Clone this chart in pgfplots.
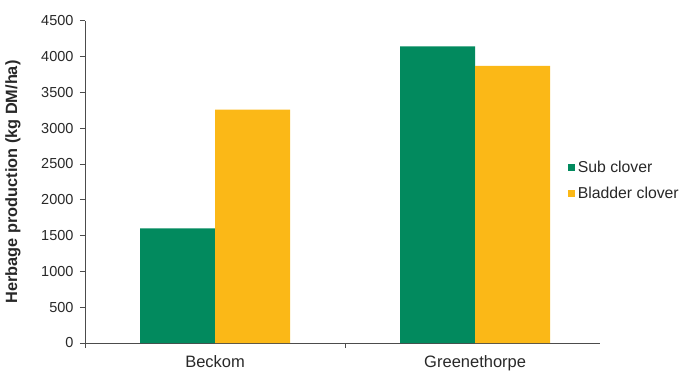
\documentclass[border=0pt]{standalone}
\usepackage{fontspec}
\setmainfont{Liberation Sans}
\usepackage{pgfplots}
\pgfplotsset{compat=1.18}
\definecolor{subg}{RGB}{2,138,94}
\definecolor{bladdery}{RGB}{251,184,23}
\definecolor{txt}{RGB}{40,40,40}
\begin{document}
\begin{tikzpicture}
\path[use as bounding box] (-85pt,-33pt) rectangle (599pt,343pt);
\begin{axis}[
  at={(0pt,0pt)}, anchor=south west,
  scale only axis,
  width=515pt, height=322.3pt,
  xmin=-0.5, xmax=1.48,
  ymin=0, ymax=4500,
  ytick={0,500,...,4500},
  xtick={0,1},
  xticklabels={Beckom,Greenethorpe},
  minor xtick={-0.5,0.5},
  major x tick style={draw=none},
  axis lines*=left,
  axis line style={black!70, line width=0.8pt},
  every tick/.style={black!70, line width=0.8pt},
  tick align=outside,
  major tick length=5pt,
  minor tick length=5pt,
  /pgf/number format/assume math mode=true,
  /pgf/number format/1000 sep={},
  tick label style={font=\fontsize{14.5}{17}\selectfont, text=txt},
  xticklabel style={yshift=-4pt, font=\fontsize{16.5}{19}\selectfont},
  yticklabel style={xshift=-3pt},
  ylabel={Herbage production (kg DM/ha)},
  every axis y label/.style={at={(axis description cs:-0.1398,0.5)}, rotate=90, anchor=center,
    font=\fontsize{16.3}{19}\selectfont\bfseries, text=txt},
  ybar=0pt,
  bar width=75pt,
  legend style={at={(0.938,0.504)}, anchor=west, draw=none, fill=none,
    font=\fontsize{15.8}{18}\selectfont, text=txt, inner sep=0pt,
    row sep=8pt, nodes={inner sep=2.5pt}},
  legend cell align=left,
  legend image code/.code={\fill[#1] (0pt,-3.5pt) rectangle (7pt,3.5pt);},
]
\addplot[fill=subg, draw=none] coordinates {(0,1600) (1,4140)};
\addplot[fill=bladdery, draw=none] coordinates {(0,3260) (1,3870)};
\legend{Sub clover, Bladder clover}
\end{axis}
\end{tikzpicture}
\end{document}
